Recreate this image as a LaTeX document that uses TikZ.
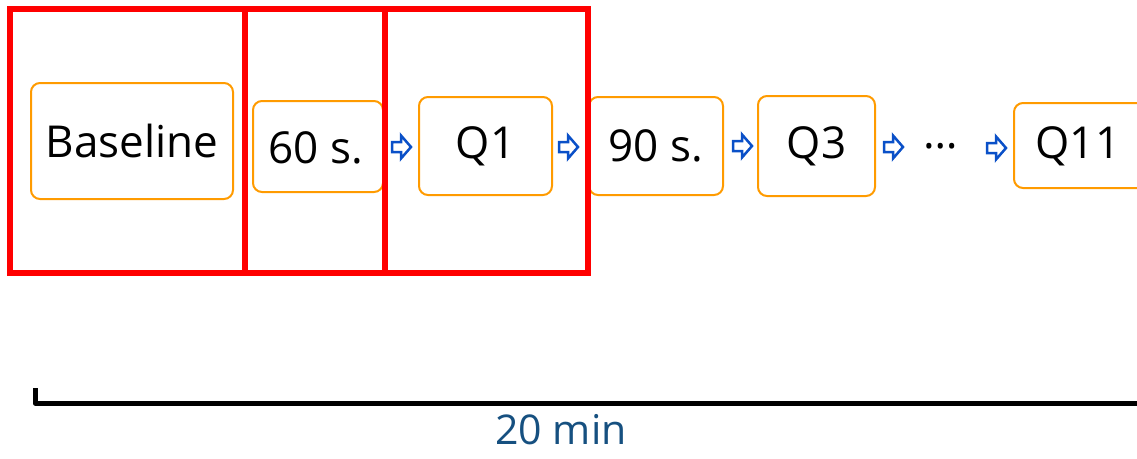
\documentclass[tikz,border=0pt]{standalone}
\usepackage{fontspec}
\setmainfont{Open Sans}
\definecolor{orangeC}{RGB}{255,155,0}
\definecolor{redC}{RGB}{255,0,0}
\definecolor{blueC}{RGB}{10,80,200}
\definecolor{labelC}{RGB}{22,80,128}
\begin{document}
\begin{tikzpicture}[x=1pt,y=-1pt,
  stage/.style={draw=orangeC, line width=2pt, rounded corners=9pt, fill=white,
    inner sep=0pt, font=\fontsize{44}{52}\selectfont, text=black},
  redframe/.style={draw=redC, line width=5.5pt, inner sep=0pt},
  arrowline/.style={draw=blueC, line width=2.5pt, fill=white, line join=miter},
  blockarrow/.pic={\path[arrowline] (-9,-5) -- (0,-5) -- (0,-11.5) -- (10,0) -- (0,11.5) -- (0,5) -- (-9,5) -- cycle;},
  bigtext/.style={font=\fontsize{44}{52}\selectfont, inner sep=0pt}
]
\clip (0,0) rectangle (1137,458);
\fill[white] (0,0) rectangle (1137,458);

% stage boxes
\node[stage, minimum width=202pt, minimum height=116pt] (base) at (132,141) {Baseline};
\node[stage, minimum width=130pt, minimum height=91pt] (s60) at (318,146.5) {};
\node[bigtext] (s60t) at (316,148) {60 s.};
\node[stage, minimum width=133pt, minimum height=98pt] (q1) at (485.5,146) {Q1};
\node[stage, minimum width=134pt, minimum height=98pt] (s90) at (656,146) {90 s.};
\node[stage, minimum width=117pt, minimum height=100pt] (q3) at (816.5,146) {Q3};
\node[stage, minimum width=132pt, minimum height=85pt, anchor=west] (q11) at (1013,145.5) {};
\node[bigtext] (q11t) at (1078,146) {Q11};
\node[bigtext] (dots) at (941,146) {\ldots};

% red frames
\node[redframe, minimum width=235pt, minimum height=264pt] (f1) at (127.5,141) {};
\node[redframe, minimum width=140pt, minimum height=264pt] (f2) at (315,141) {};
\node[redframe, minimum width=203pt, minimum height=264pt] (f3) at (486.5,141) {};

% block arrows
\pic at (401,147) {blockarrow};
\pic at (568,147) {blockarrow};
\pic at (742,146) {blockarrow};
\pic at (893,147) {blockarrow};
\pic at (996,148) {blockarrow};

% bracket
\coordinate (bt) at (35,388);
\coordinate (bc) at (35,403);
\coordinate (be) at (1145,403);
\draw[line width=5pt, line join=round] (bt) -- (bc) -- (be);
\node[font=\fontsize{41}{48}\selectfont, text=labelC, inner sep=0pt, anchor=base] (lbl) at (561,444) {20 min};
\end{tikzpicture}
\end{document}
